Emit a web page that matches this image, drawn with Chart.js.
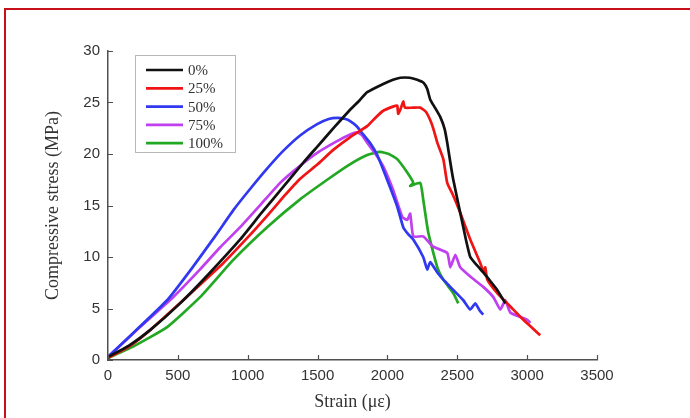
<!DOCTYPE html>
<html>
<head>
<meta charset="utf-8">
<script src="https://cdn.jsdelivr.net/npm/chart.js@4.4.1/dist/chart.umd.min.js"></script>
<style>
  html, body { margin: 0; padding: 0; background: #fff; }
  #wrap { position: relative; width: 690px; height: 418px; }
  #frame { position: absolute; left: 4px; top: 8px; right: -10px; bottom: -10px;
           border-top: 2px solid #c8101a; border-left: 2px solid #c8101a; pointer-events: none; }
  canvas { position: absolute; left: 0; top: 0; }
</style>
</head>
<body>
<div id="wrap">
  <canvas id="c" width="690" height="418"></canvas>
  <div id="frame"></div>
</div>
<script>
// Stress–strain curves for five replacement ratios
const seriesLabels = ['0%', '25%', '50%', '75%', '100%'];
const seriesColors = ['#111111', '#f01414', '#3038f0', '#c040f0', '#22a822'];

const strain0 = [0, 150, 301, 516, 731, 946, 1100, 1254, 1400, 1497, 1620, 1733, 1800, 1855, 1970, 2040, 2092, 2160, 2213, 2260, 2285, 2306, 2340, 2378, 2410, 2428, 2450, 2470, 2521, 2560, 2593, 2640, 2686, 2740, 2786, 2844];
const stress0 = [0.3, 1.4, 2.9, 5.5, 8.5, 11.7, 14.3, 16.8, 19.2, 20.7, 22.6, 24.3, 25.2, 26.0, 26.8, 27.2, 27.4, 27.4, 27.2, 26.9, 26.3, 25.3, 24.5, 23.6, 22.4, 21.1, 19.2, 17.6, 14.3, 11.8, 10.0, 9.2, 8.5, 7.6, 6.8, 5.5];

const strain25 = [0, 150, 301, 537, 824, 1000, 1139, 1260, 1375, 1500, 1612, 1730, 1855, 1920, 1970, 2040, 2070, 2077, 2095, 2113, 2125, 2180, 2235, 2275, 2306, 2330, 2357, 2400, 2428, 2470, 2521, 2593, 2665, 2690, 2700, 2715, 2786, 2880, 2973, 3094];
const stress25 = [0.2, 1.3, 2.9, 5.8, 9.4, 11.9, 14.0, 15.9, 17.6, 19.0, 20.4, 21.6, 22.7, 23.6, 24.2, 24.6, 24.7, 23.9, 24.4, 25.1, 24.5, 24.5, 24.5, 24.1, 23.3, 22.4, 21.1, 19.5, 17.2, 16.0, 14.3, 11.7, 9.4, 8.5, 9.0, 7.8, 6.5, 5.2, 3.9, 2.4];

const strain50 = [0, 179, 423, 600, 766, 900, 1017, 1140, 1254, 1375, 1497, 1580, 1640, 1700, 1733, 1780, 1827, 1880, 1927, 1998, 2070, 2113, 2150, 2185, 2256, 2285, 2306, 2357, 2400, 2450, 2543, 2593, 2629, 2660, 2686];
const stress50 = [0.3, 2.6, 5.8, 8.9, 12.0, 14.6, 16.6, 18.6, 20.3, 21.8, 22.9, 23.4, 23.5, 23.4, 23.2, 22.7, 21.9, 21.0, 19.9, 17.5, 14.9, 12.9, 12.2, 11.7, 10.0, 8.8, 9.5, 8.5, 7.8, 7.1, 5.8, 4.9, 5.5, 4.8, 4.4];

const strain75 = [0, 229, 466, 659, 800, 946, 1100, 1232, 1370, 1497, 1620, 1733, 1784, 1820, 1855, 1910, 1970, 2041, 2106, 2142, 2163, 2185, 2256, 2328, 2428, 2450, 2486, 2521, 2593, 2686, 2758, 2808, 2844, 2880, 3001, 3023];
const stress75 = [0.3, 3.2, 6.1, 8.8, 10.9, 12.9, 15.2, 17.2, 18.8, 20.1, 21.1, 21.9, 22.1, 21.8, 21.1, 20.1, 18.8, 16.5, 13.9, 13.6, 14.2, 12.0, 12.0, 11.0, 10.4, 9.0, 10.2, 9.0, 8.1, 7.1, 6.1, 4.9, 5.8, 4.6, 3.9, 3.6];

const strain100 = [0, 179, 423, 659, 895, 1139, 1375, 1569, 1720, 1855, 1948, 2010, 2070, 2142, 2185, 2163, 2235, 2256, 2292, 2357, 2400, 2471, 2507];
const stress100 = [0.2, 1.3, 3.2, 6.1, 9.7, 12.9, 15.6, 17.5, 18.9, 19.9, 20.2, 20.0, 19.5, 18.2, 17.2, 16.9, 17.2, 15.6, 12.4, 9.0, 7.8, 6.5, 5.5];

const xTicks = [0, 500, 1000, 1500, 2000, 2500, 3000, 3500];
const yTicks = [0, 5, 10, 15, 20, 25, 30];

const strains = [strain0, strain25, strain50, strain75, strain100];
const stresses = [stress0, stress25, stress50, stress75, stress100];

const datasets = seriesLabels.map((label, i) => ({
  label,
  data: strains[i].map((x, k) => ({ x, y: stresses[i][k] })),
  borderColor: seriesColors[i],
  backgroundColor: seriesColors[i],
  borderWidth: 2.7,
  showLine: true,
  pointRadius: 0,
  tension: 0.15,
  fill: false
}));

const axisColor = '#505050';
const tickFont = { family: 'Liberation Sans', size: 15 };
const titleFont = { family: 'Liberation Serif', size: 18 };

// Short tick marks drawn on the inner side of both axes
const innerTicks = {
  id: 'innerTicks',
  afterDraw(chart) {
    const { ctx, chartArea, scales } = chart;
    ctx.save();
    ctx.strokeStyle = axisColor;
    ctx.lineWidth = 1.2;
    ctx.beginPath();
    xTicks.forEach(v => {
      const px = Math.round(scales.x.getPixelForValue(v)) + 0.5;
      ctx.moveTo(px, chartArea.bottom);
      ctx.lineTo(px, chartArea.bottom - 5);
    });
    yTicks.forEach(v => {
      const py = Math.round(scales.y.getPixelForValue(v)) + 0.5;
      ctx.moveTo(chartArea.left, py);
      ctx.lineTo(chartArea.left + 5, py);
    });
    ctx.stroke();
    ctx.restore();
  }
};

// Boxed legend in the upper-left of the plot
const boxedLegend = {
  id: 'boxedLegend',
  afterDraw(chart) {
    const { ctx } = chart;
    const x0 = 135, y0 = 55, w = 100, h = 97;
    ctx.save();
    ctx.fillStyle = '#ffffff';
    ctx.fillRect(x0, y0, w, h);
    ctx.strokeStyle = '#b8b8b8';
    ctx.lineWidth = 1;
    ctx.strokeRect(x0 + 0.5, y0 + 0.5, w, h);
    ctx.font = '15px "Liberation Serif"';
    ctx.textBaseline = 'middle';
    chart.data.datasets.forEach((ds, i) => {
      const y = 70 + i * 18.3;
      ctx.strokeStyle = ds.borderColor;
      ctx.lineWidth = 2.7;
      ctx.beginPath();
      ctx.moveTo(146, y);
      ctx.lineTo(183, y);
      ctx.stroke();
      ctx.fillStyle = '#333333';
      ctx.fillText(ds.label, 188, y + 1);
    });
    ctx.restore();
  }
};

new Chart(document.getElementById('c'), {
  type: 'scatter',
  data: { datasets },
  options: {
    responsive: false,
    animation: false,
    layout: { padding: { left: 42, top: 51, right: 93, bottom: 0 } },
    plugins: { legend: { display: false }, tooltip: { enabled: false } },
    scales: {
      x: {
        type: 'linear',
        min: 0, max: 3500,
        afterBuildTicks(scale) { scale.ticks = xTicks.map(value => ({ value })); },
        afterFit(scale) { scale.height = 58; },
        grid: { drawOnChartArea: false, drawTicks: false },
        border: { display: true, color: axisColor, width: 1.5 },
        ticks: { color: '#333333', font: tickFont, padding: 7, maxRotation: 0, callback: v => String(v) },
        title: { display: true, text: 'Strain (με)', color: '#333333', font: titleFont, padding: { top: 4, bottom: 5 } }
      },
      y: {
        type: 'linear',
        min: 0, max: 30,
        afterBuildTicks(scale) { scale.ticks = yTicks.map(value => ({ value })); },
        afterFit(scale) { scale.width = 66; },
        grid: { drawOnChartArea: false, drawTicks: false },
        border: { display: true, color: axisColor, width: 1.5 },
        ticks: { color: '#333333', font: tickFont, padding: 8, callback: v => String(v) },
        title: { display: true, text: 'Compressive stress (MPa)', color: '#333333', font: titleFont, padding: { top: 0, bottom: 4 } }
      }
    }
  },
  plugins: [innerTicks, boxedLegend]
});
</script>
</body>
</html>
